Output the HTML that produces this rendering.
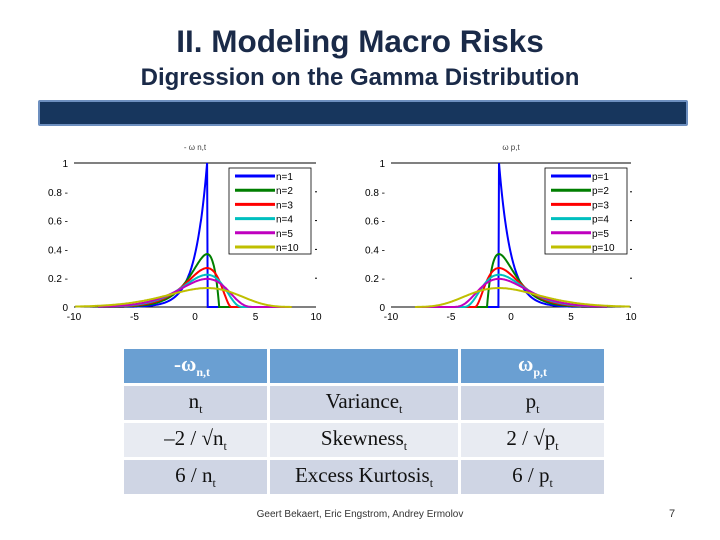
<!DOCTYPE html>
<html><head><meta charset="utf-8"><style>
body{margin:0;width:720px;height:540px;background:#fff;position:relative;overflow:hidden;font-family:"Liberation Sans",sans-serif}
.t{position:absolute;left:0;width:720px;text-align:center;color:#1a2a48;font-family:"Liberation Sans Narrow","Liberation Sans",sans-serif}
table{position:absolute;left:124px;top:349px;border-collapse:separate;border-spacing:3px;margin:-3px;font-family:"Liberation Serif",serif;font-size:21px;color:#111}
td{text-align:center;padding:0;height:34px}
sub{font-size:12px}
</style></head><body>
<div class="t" style="top:23px;font-size:31.5px;font-weight:bold">II. Modeling Macro Risks</div>
<div class="t" style="top:64px;font-size:24px;font-weight:bold">Digression on the Gamma Distribution</div>
<div style="position:absolute;left:38px;top:100px;width:646px;height:22px;background:#17365d;border:2px solid #6d8fbf;border-radius:2px"></div>
<svg id="ch" width="720" height="340" style="position:absolute;left:0;top:0"></svg>
<table>
<tr style="background:#6a9fd2;color:#fff;font-weight:bold"><td style="text-align:left;padding-left:50px;width:93px">-ω<sub>n,t</sub></td><td style="width:188px"></td><td style="width:143px">ω<sub>p,t</sub></td></tr>
<tr style="background:#cfd5e4"><td>n<sub>t</sub></td><td>Variance<sub>t</sub></td><td>p<sub>t</sub></td></tr>
<tr style="background:#e8ebf2"><td>–2 / √n<sub>t</sub></td><td>Skewness<sub>t</sub></td><td>2 / √p<sub>t</sub></td></tr>
<tr style="background:#cfd5e4"><td>6 / n<sub>t</sub></td><td>Excess Kurtosis<sub>t</sub></td><td>6 / p<sub>t</sub></td></tr>
</table>
<div style="position:absolute;left:0;width:720px;top:509px;text-align:center;font-size:10px;color:#333">Geert Bekaert, Eric Engstrom, Andrey Ermolov</div>
<div style="position:absolute;left:669px;top:508px;font-size:11px;color:#333">7</div>
<script>
const shapes=[1,2,3,4,5,10];
const labelsN=["n=1","n=2","n=3","n=4","n=5","n=10"];
const labelsP=["p=1","p=2","p=3","p=4","p=5","p=10"];
const colors=["#0000ff","#007f00","#ff0000","#00bfbf","#bf00bf","#bfbf00"];
const xTicks=[-10,-5,0,5,10];
const yTicks=[0,0.2,0.4,0.6,0.8,1];
const svg=document.getElementById('ch');const NS="http://www.w3.org/2000/svg";
function mk(t,a,txt){const e=document.createElementNS(NS,t);for(const k in a)e.setAttribute(k,a[k]);if(txt!=null)e.textContent=txt;svg.appendChild(e);return e;}
function lg(k){let s=0;for(let i=2;i<k;i++)s+=Math.log(i);return s;}
function pdf(g,k){return g<0?0:Math.exp((k-1)*Math.log(Math.max(g,1e-12))-g-lg(k));}
function plot(x0,x1,sign,title,labels,legX,nm){
 const X=v=>x0+(v+10)/20*(x1-x0),Y=v=>307-v*144;
 let e=mk('line',{x1:x0,x2:x1,y1:Y(1),y2:Y(1),stroke:'#000','stroke-width':1});
 
 e=mk('line',{x1:x0,x2:x1,y1:Y(0),y2:Y(0),stroke:'#000','stroke-width':1});
 
 xTicks.forEach(t=>{e=mk('text',{x:X(t),y:320,'font-size':10,'text-anchor':'middle'},String(t));
  });
 yTicks.forEach(t=>{e=mk('text',{x:x0-6,y:Y(t)+4,'font-size':10,'text-anchor':'end'},String(t)+(t>0&&t<1?' -':''));
  
  if(t>0&&t<1){mk('line',{x1:x1-1,x2:x1+1,y1:Y(t),y2:Y(t),stroke:'#000'});}});
 e=mk('text',{x:X(0),y:150,'font-size':8,'text-anchor':'middle',fill:'#444'},title);
 
 shapes.forEach((k,i)=>{let pts=[];
  for(let j=0;j<=400;j++){const x=-10+j*0.05;const g=sign>0?x+k:k-x;let d=pdf(g,k);if(d>1)d=1;
   if(Math.abs(x)<=8||d>0.003)pts.push(X(x).toFixed(1)+','+Y(d).toFixed(1));}
  e=mk('polyline',{points:pts.join(' '),fill:'none',stroke:colors[i],'stroke-width':2});
  });
 e=mk('rect',{x:legX,y:168,width:82,height:86,fill:'#fff',stroke:'#000','stroke-width':0.8});
 
 labels.forEach((l,i)=>{const y=176+i*14.2;
  mk('line',{x1:legX+6,x2:legX+46,y1:y,y2:y,stroke:colors[i],'stroke-width':3});
  e=mk('text',{x:legX+47,y:y+4,'font-size':10},l);
  });
}
plot(74,316,-1,'- ω n,t',labelsN,229,'left-chart');
plot(391,631,1,'ω p,t',labelsP,545,'right-chart');
</script>
</body></html>
